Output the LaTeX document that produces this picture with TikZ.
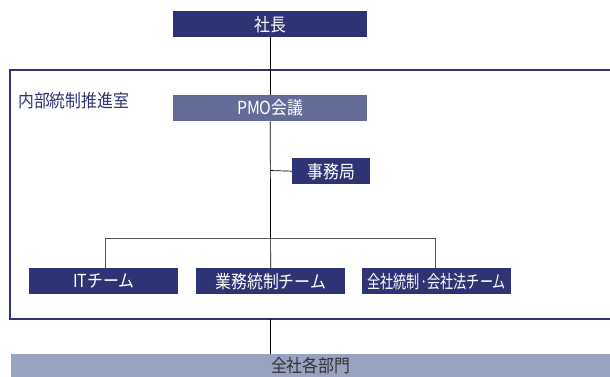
\documentclass[tikz,border=0pt]{standalone}
\usepackage{fontspec}
\newfontfamily\jp[FakeStretch=0.88]{Noto Sans CJK JP}
\definecolor{navy}{HTML}{2E3374}
\definecolor{pmo}{HTML}{636C98}
\definecolor{light}{HTML}{98A3C2}
\definecolor{txtdark}{HTML}{333333}
\definecolor{branch}{HTML}{555555}
\begin{document}
\begin{tikzpicture}[x=1pt,y=-1pt,
  box/.style={fill=navy,text=white,inner sep=0pt,anchor=north west,font=\jp\fontsize{18}{18}\selectfont},
  link/.style={draw=black,line width=0.7pt},
  blink/.style={draw=branch,line width=0.9pt}]
\useasboundingbox (0,0) rectangle (610,377);
% frame
\draw[navy,line width=2pt] (610,70) -- (10,70) -- (10,319) -- (610,319);
\node[anchor=west,text=navy,font=\jp\fontsize{18}{18}\selectfont,inner sep=0pt] (label) at (18,101) {内部統制推進室};
% boxes
\node[box,minimum width=194pt,minimum height=26pt] (ceo) at (173,11) {社長};
\node[box,fill=pmo,minimum width=194pt,minimum height=26pt] (pmo) at (173,95) {PMO会議};
\node[box,minimum width=78pt,minimum height=26pt] (jim) at (292,158) {事務局};
\node[box,minimum width=149pt,minimum height=26pt] (it) at (29,268) {ITチーム};
\node[box,minimum width=149pt,minimum height=26pt] (gyo) at (196,268) {業務統制チーム};
\node[box,minimum width=149pt,minimum height=26pt] (zen) at (362,268) {\scalebox{0.83}[1]{全社統制·会社法チーム}};
\node[box,fill=light,text=txtdark,minimum width=599pt,minimum height=23pt] (all) at (11,354) {全社各部門};
% coordinates
\coordinate (brl) at (105,238);
\coordinate (brr) at (435,238);
\coordinate (jimj) at (270,170.5);
\coordinate (fb) at (270,319);
% connectors
\draw[link] (ceo.south) -- (pmo.north);
\draw[link] (pmo.south) -- (gyo.north);
\draw[link] (jimj) -- (jim.west);
\draw[blink] (brl) -- (brr);
\draw[blink] (brl) -- (brl |- it.north);
\draw[blink] (brr) -- (brr |- zen.north);
\draw[link] (fb) -- (all.north -| fb);
\end{tikzpicture}
\end{document}
